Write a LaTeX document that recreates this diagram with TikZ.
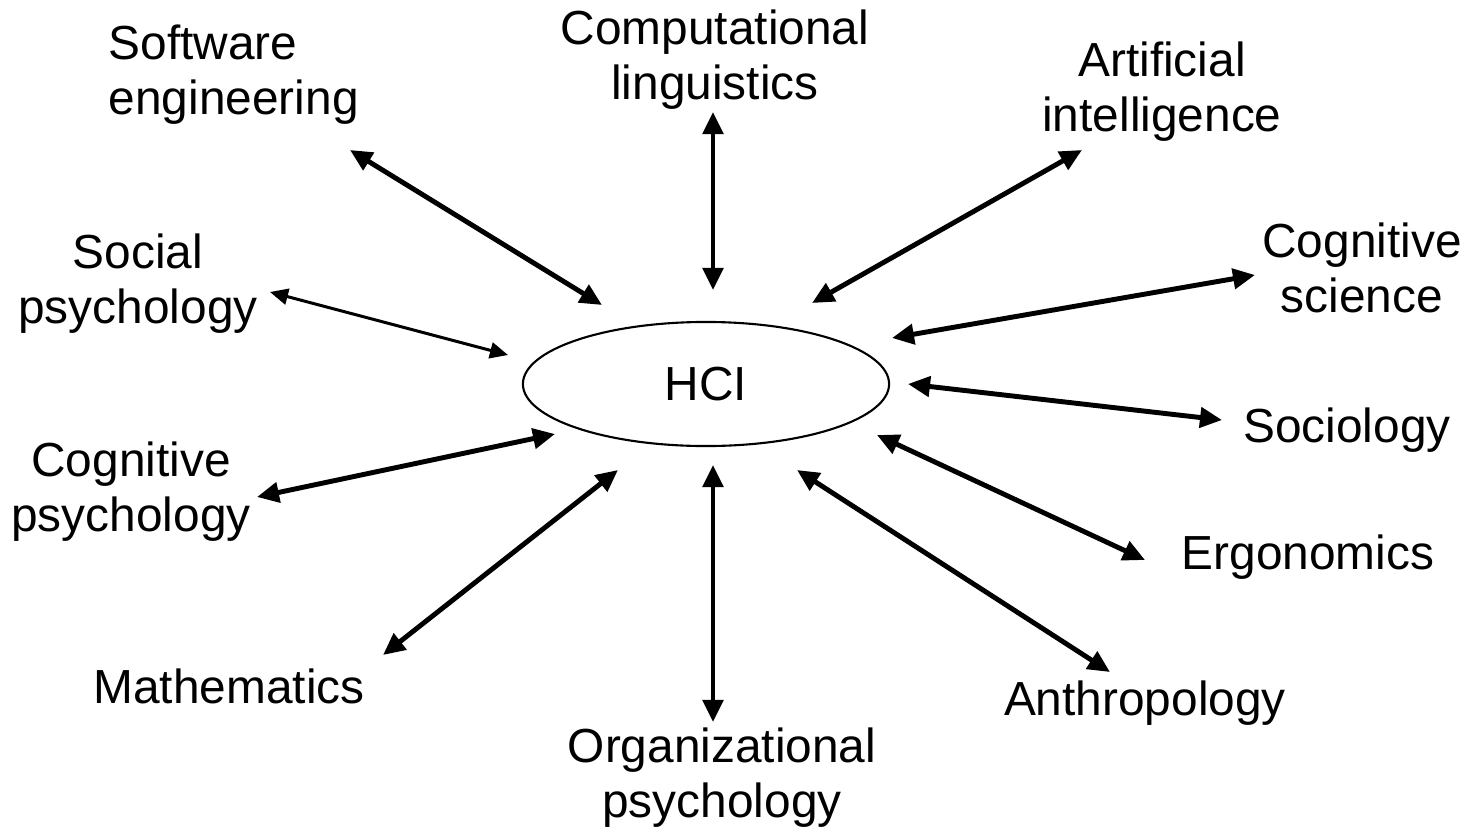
\documentclass[tikz,border=0pt]{standalone}
\usepackage{fontspec}
\setmainfont{Liberation Sans}
\usetikzlibrary{arrows.meta,shapes.geometric}
\tikzset{
  mag/.style={ellipse,draw,line width=0.6pt,minimum width=3.66cm,minimum height=1.24cm,inner sep=0pt},
  ter/.style={align=center,inner sep=0pt,font=\fontsize{13.6}{15.6}\selectfont},
  kap/.style={{Triangle[length=2.2mm,width=2mm]}-{Triangle[length=2.2mm,width=2mm]},line width=1.4pt},
  vkap/.style={{Triangle[length=1.8mm,width=1.6mm]}-{Triangle[length=1.8mm,width=1.6mm]},line width=0.85pt},
}
\begin{document}
\begin{tikzpicture}[x=0.01cm,y=-0.01cm]
  \useasboundingbox (0,0) rectangle (1472,833);
  \node[mag,font=\fontsize{13.6}{15.6}\selectfont] (hci) at (706,384) {HCI};
  \node[ter,align=left,anchor=west] (softeng) at (108,75) {Software\\engineering};
  \node[ter] (complin) at (715,60) {Computational\\linguistics};
  \node[ter] (ai) at (1162,92) {Artificial\\intelligence};
  \node[ter] (cogsci) at (1362,268) {Cognitive\\science};
  \node[ter] (soc) at (1347,430) {Sociology};
  \node[ter] (ergo) at (1308,557) {Ergonomics};
  \node[ter] (anthro) at (1145,703) {Anthropology};
  \node[ter] (orgpsy) at (722,778) {Organizational\\psychology};
  \node[ter] (math) at (229,686) {Mathematics};
  \node[ter] (cogpsy) at (131,492) {Cognitive\\psychology};
  \node[ter] (socpsy) at (138,284) {Social\\psychology};
  % double arrows round the ellipse
  \foreach \n/\xa/\ya/\xb/\yb in {se/350/150/602/305, cl/713/112/713/290,
      ai/1082/150/812/303, cs/1255/275/892/338, so/1222/420/908/384,
      er/1145/560/877/435, an/1110/672/797/470, op/713/722/713/465,
      ma/383/655/618/470, cp/257/497/555/434}{
    \coordinate (\n-out) at (\xa,\ya);
    \coordinate (\n-in) at (\xb,\yb);
    \draw[kap] (\n-out) -- (\n-in);
  }
  \coordinate (sp-out) at (270,292);
  \coordinate (sp-in) at (508,355);
  \draw[vkap] (sp-out) -- (sp-in);
\end{tikzpicture}
\end{document}
